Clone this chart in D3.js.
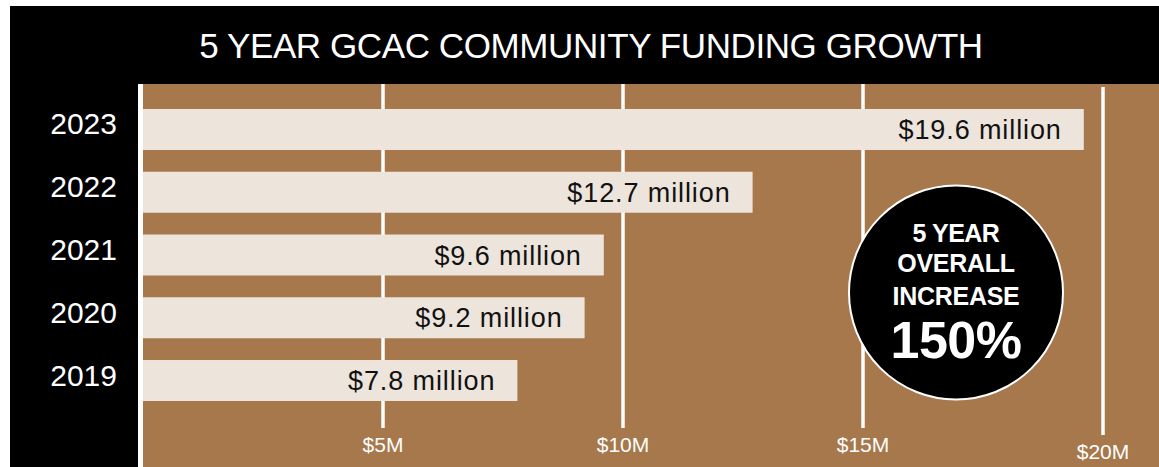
<!DOCTYPE html>
<html>
<head>
<meta charset="utf-8">
<script src="https://cdn.jsdelivr.net/npm/d3@7/dist/d3.min.js"></script>
<style>
  html, body { margin: 0; padding: 0; background: #fff; }
  svg { display: block; }
</style>
</head>
<body>
<svg id="chart" width="1159" height="467"></svg>
<script>
// ---- data ----
const title = "5 YEAR GCAC COMMUNITY FUNDING GROWTH";
const years = ["2023", "2022", "2021", "2020", "2019"];
const values = [19.6, 12.7, 9.6, 9.2, 7.8];           // $ millions
const tickValues = [5, 10, 15, 20];
const tickLabels = ["$5M", "$10M", "$15M", "$20M"];
const badgeLines = ["5 YEAR", "OVERALL", "INCREASE"];
const badgeValue = "150%";

// ---- layout ----
const W = 1159, H = 467;
const svg = d3.select("#chart");
const font = "'Liberation Sans', Arial, Helvetica, sans-serif";
const brown = "#A6784B";
const barFill = "#EDE4DC";

const x = d3.scaleLinear().domain([0, 20]).range([143, 1103]);
const y = d3.scaleBand().domain(years).range([109, 401]).paddingInner(0.347).paddingOuter(0);

// black frame
svg.append("rect").attr("x", 10).attr("y", 6).attr("width", W - 10).attr("height", H - 6).attr("fill", "#000");

// brown plot panel
svg.append("rect").attr("x", x(0)).attr("y", 84).attr("width", W - x(0)).attr("height", H - 84).attr("fill", brown);

// zero line (white)
svg.append("rect").attr("x", x(0) - 5).attr("y", 84).attr("width", 5).attr("height", H - 84).attr("fill", "#fff");

// title
svg.append("text")
  .attr("x", 591).attr("y", 58)
  .attr("text-anchor", "middle")
  .attr("fill", "#fff")
  .style("font-family", font).style("font-size", "35px").style("letter-spacing", "-0.4px")
  .text(title);

// gridlines
const grid = svg.append("g");
tickValues.forEach((t, i) => {
  const last = i === tickValues.length - 1;
  grid.append("line")
    .attr("x1", x(t)).attr("x2", x(t))
    .attr("y1", last ? 87 : 84).attr("y2", last ? 435 : 428)
    .attr("stroke", "#fff").attr("stroke-width", 3.5);
  grid.append("text")
    .attr("x", x(t)).attr("y", last ? 459 : 452)
    .attr("text-anchor", "middle")
    .attr("fill", "#fff")
    .style("font-family", font).style("font-size", "21px")
    .text(tickLabels[i]);
});

// bars
const bars = svg.append("g");
years.forEach((yr, i) => {
  const v = values[i];
  bars.append("rect")
    .attr("x", x(0)).attr("y", y(yr))
    .attr("width", x(v) - x(0)).attr("height", y.bandwidth())
    .attr("fill", barFill);
  bars.append("text")
    .attr("x", x(v) - 22).attr("y", y(yr) + y.bandwidth() / 2 + 9.5)
    .attr("text-anchor", "end")
    .attr("fill", "#111")
    .style("font-family", font).style("font-size", "27px").style("letter-spacing", "0.9px")
    .text(`$${v} million`);
  // year labels
  svg.append("text")
    .attr("x", 117).attr("y", y(yr) + y.bandwidth() / 2 + 5)
    .attr("text-anchor", "end")
    .attr("fill", "#fff")
    .style("font-family", font).style("font-size", "30px")
    .text(yr);
});

// badge
const cx = 956, cy = 292.5, r = 107;
svg.append("circle").attr("cx", cx).attr("cy", cy).attr("r", r)
  .attr("fill", "#000").attr("stroke", "#fff").attr("stroke-width", 2);
const lineBase = [242, 272, 305];
badgeLines.forEach((t, i) => {
  svg.append("text")
    .attr("x", cx).attr("y", lineBase[i])
    .attr("text-anchor", "middle")
    .attr("fill", "#fff")
    .style("font-family", font).style("font-weight", "bold").style("font-size", "25px")
    .style("letter-spacing", i === 0 ? "-0.5px" : "-0.3px")
    .text(t);
});
svg.append("text")
  .attr("x", cx).attr("y", 358)
  .attr("text-anchor", "middle")
  .attr("fill", "#fff")
  .style("font-family", font).style("font-weight", "bold").style("font-size", "52px")
  .style("letter-spacing", "-0.5px")
  .text(badgeValue);
</script>
</body>
</html>
